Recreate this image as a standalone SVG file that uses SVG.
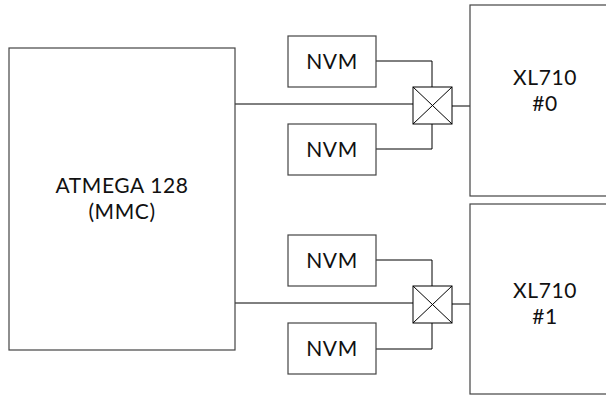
<svg xmlns="http://www.w3.org/2000/svg" width="606" height="396" viewBox="0 0 606 396">
<style>
.box{fill:#fff;stroke:#444;stroke-width:1.2}
.sw{fill:#fff;stroke:#000;stroke-width:1}
.ln{fill:none;stroke:#000;stroke-width:1}
text{font-family:Lato,"Open Sans",sans-serif;font-size:21px;fill:#111;text-anchor:middle;letter-spacing:0.6px}
</style>
<rect width="606" height="396" fill="#fff"/>
<g id="connectors">
<line class="ln" x1="235" y1="104" x2="413" y2="104"/>
<polyline class="ln" points="376,61 432,61 432,87"/>
<polyline class="ln" points="376,149 432,149 432,124"/>
<line class="ln" x1="452" y1="106" x2="470" y2="106"/>
<line class="ln" x1="235" y1="303" x2="413" y2="303"/>
<polyline class="ln" points="376,260 432,260 432,286"/>
<polyline class="ln" points="376,349 432,349 432,323"/>
<line class="ln" x1="452" y1="304" x2="470" y2="304"/>
</g>
<g id="atmega">
<rect class="box" x="9" y="48" width="226" height="302"/>
<text x="122" y="193">ATMEGA 128</text>
<text x="122" y="218.5">(MMC)</text>
</g>
<g id="nvm1"><rect class="box" x="288" y="36" width="88" height="51"/><text x="332" y="69">NVM</text></g>
<g id="nvm2"><rect class="box" x="288" y="124" width="88" height="51"/><text x="332" y="157">NVM</text></g>
<g id="nvm3"><rect class="box" x="288" y="235" width="88" height="51"/><text x="332" y="268">NVM</text></g>
<g id="nvm4"><rect class="box" x="288" y="323" width="88" height="51"/><text x="332" y="356">NVM</text></g>
<g id="switch0">
<rect class="sw" x="413" y="87" width="39" height="37"/>
<path class="ln" d="M413,87 L452,124 M452,87 L413,124"/>
</g>
<g id="switch1">
<rect class="sw" x="413" y="286" width="39" height="37"/>
<path class="ln" d="M413,286 L452,323 M452,286 L413,323"/>
</g>
<g id="xl710_0">
<rect class="box" x="470" y="5" width="140" height="191"/>
<text x="545" y="85">XL710</text>
<text x="545" y="110.5">#0</text>
</g>
<g id="xl710_1">
<rect class="box" x="470" y="204" width="140" height="190"/>
<text x="545" y="298">XL710</text>
<text x="545" y="323.5">#1</text>
</g>
</svg>
